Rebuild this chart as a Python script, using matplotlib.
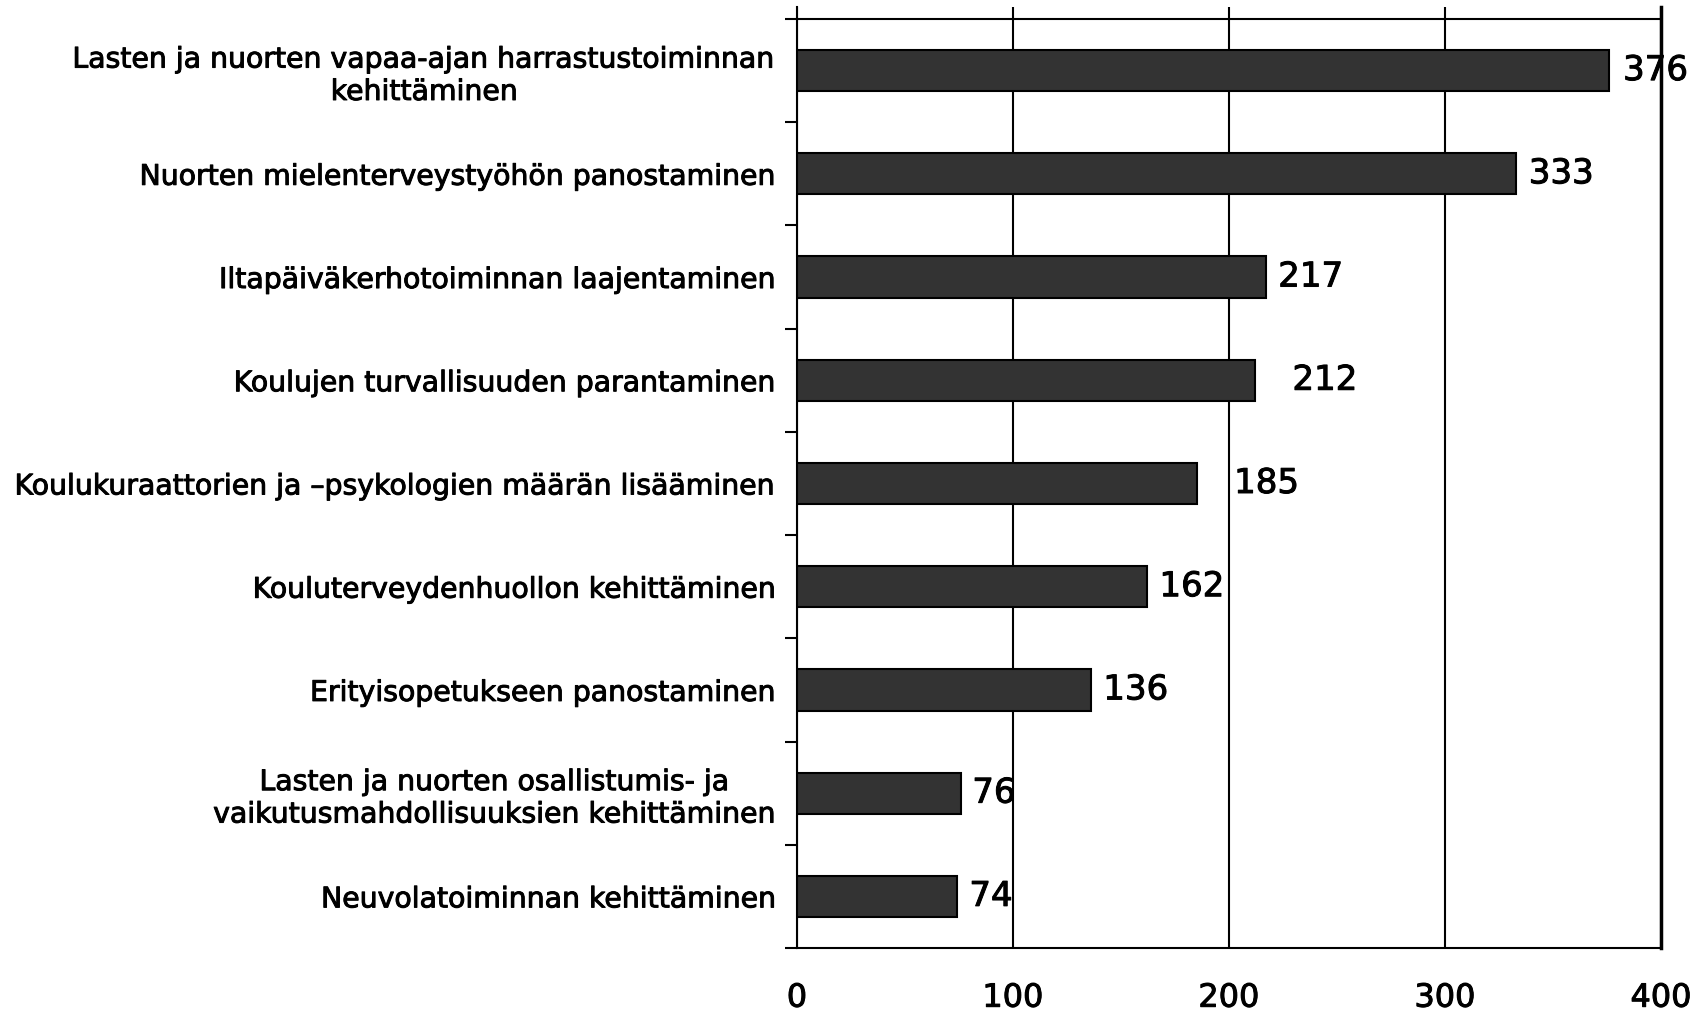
import matplotlib
matplotlib.use("Agg")
import matplotlib.pyplot as plt
import matplotlib.patheffects as pe
import numpy as np

# kategoriat ylhäältä alas
categories = [
    "Lasten ja nuorten vapaa-ajan harrastustoiminnan\nkehittäminen",
    "Nuorten mielenterveystyöhön panostaminen",
    "Iltapäiväkerhotoiminnan laajentaminen",
    "Koulujen turvallisuuden parantaminen",
    "Koulukuraattorien ja \u2013psykologien määrän lisääminen",
    "Kouluterveydenhuollon kehittäminen",
    "Erityisopetukseen panostaminen",
    "Lasten ja nuorten osallistumis- ja\nvaikutusmahdollisuuksien kehittäminen",
    "Neuvolatoiminnan kehittäminen",
]
values = [376, 333, 217, 212, 185, 162, 136, 76, 74]
x_ticks = [0, 100, 200, 300, 400]

# arvotekstien etäisyys palkin päästä (pt)
label_pad = [10, 9, 9, 27, 27, 9, 9, 8, 9]

thick = [pe.withStroke(linewidth=0.7, foreground="black")]

fig = plt.figure(figsize=(17.06, 10.17), dpi=100)
ax = fig.add_axes([797 / 1706, 1 - 948 / 1017, (1661 - 797) / 1706, (948 - 7) / 1017])

y = np.arange(len(categories))
ax.barh(y, values, height=0.4, color="#333333", edgecolor="black", linewidth=1.5, zorder=3)

ax.set_xlim(0, 400)
ax.set_ylim(len(categories) - 0.5, -0.616)

# pystyviivat
ax.set_xticks(x_ticks)
ax.xaxis.grid(True, color="black", linewidth=1.5, zorder=1)
ax.set_xticklabels([str(t) for t in x_ticks], fontsize=23, family="DejaVu Sans")
ax.tick_params(axis="x", length=0, pad=25)

# yläreuna kategorioiden rajalla
ax.axhline(-0.5, color="black", linewidth=1.5, zorder=2)

ax.set_yticks(np.arange(-0.5, len(categories), 1.0))
ax.set_yticklabels([])
ax.tick_params(axis="y", which="major", length=9, width=1.5, direction="out")
ax.set_yticks(y, minor=True)
ax.set_yticklabels(categories, minor=True, fontsize=20.4, family="DejaVu Sans",
                   multialignment="center")
ax.tick_params(axis="y", which="minor", length=0, pad=15)

for lab in ax.get_yticklabels(minor=True) + ax.get_xticklabels():
    lab.set_path_effects(thick)

ax.spines["top"].set_visible(False)
for s in ["left", "right", "bottom"]:
    ax.spines[s].set_linewidth(1.5)
ax.spines["right"].set_linewidth(2.5)

for yi, v, p in zip(y, values, label_pad):
    ax.annotate(str(v), (v, yi), xytext=(p, 0), textcoords="offset points",
                va="center", ha="left", fontsize=24.5, family="DejaVu Sans",
                zorder=4, path_effects=thick)

fig.savefig("out.png", dpi=100)
